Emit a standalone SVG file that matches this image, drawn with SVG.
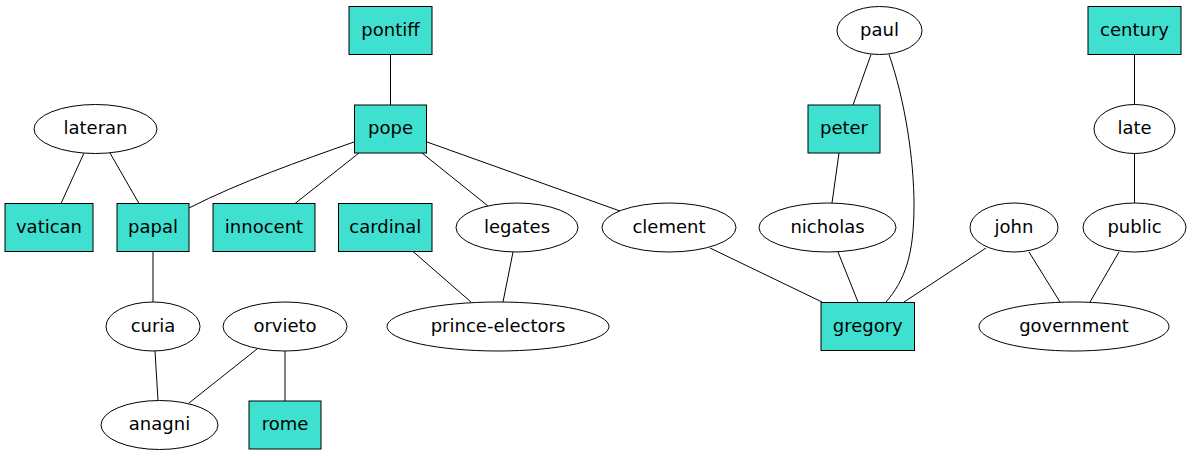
<svg xmlns="http://www.w3.org/2000/svg" width="1192" height="456" viewBox="0 0 1192 456">
<style>
.n rect{fill:#40e0d0;stroke:#000;stroke-width:1}
.n ellipse{fill:#fff;stroke:#000;stroke-width:1}
.n text{font-family:"DejaVu Sans",sans-serif;font-size:18px;text-anchor:middle;fill:#000}
#edges path{fill:none;stroke:#000;stroke-width:1}
</style>
<rect width="1192" height="456" fill="#fff"/>
<g id="edges">
<path d="M390.5,54.5 L390.5,105"/>
<path d="M84,153 L61,203.5"/>
<path d="M110,153 L139,203.5"/>
<path d="M354,142 C300,161 240,182 189,208"/>
<path d="M359,153 L295,203.5"/>
<path d="M422,153 L488,206"/>
<path d="M427,142 L620,211"/>
<path d="M153,251.5 L153,302"/>
<path d="M155,351 L158,400.5"/>
<path d="M257,349 L189,403"/>
<path d="M285,350 L285,401"/>
<path d="M413,251.5 L471,302"/>
<path d="M513,252 L503,302"/>
<path d="M710,248 L822,302"/>
<path d="M871,54.5 L853,105"/>
<path d="M889,54.5 C905,100 914,160 914,205 C914,255 905,280 886,302"/>
<path d="M839,153 L832,203"/>
<path d="M838,252 L858,302"/>
<path d="M986,248 L904,302"/>
<path d="M1029,252 L1060,302"/>
<path d="M1119,252 L1090,302"/>
<path d="M1134.5,54.5 L1134.5,104.5"/>
<path d="M1134.5,153.5 L1134.5,203"/>
</g>
<g id="pontiff" class="n"><rect x="349" y="6.5" width="83" height="48"/><text x="390.5" y="35.5">pontiff</text></g>
<g id="pope" class="n"><rect x="354.5" y="105" width="72" height="48"/><text x="390.5" y="134">pope</text></g>
<g id="lateran" class="n"><ellipse cx="95.5" cy="129" rx="61.5" ry="24.5"/><text x="95.5" y="134">lateran</text></g>
<g id="vatican" class="n"><rect x="5" y="203.5" width="88" height="48"/><text x="49" y="232.5">vatican</text></g>
<g id="papal" class="n"><rect x="117" y="203.5" width="72" height="48"/><text x="153" y="232.5">papal</text></g>
<g id="innocent" class="n"><rect x="213" y="203.5" width="102" height="48"/><text x="264" y="232.5">innocent</text></g>
<g id="cardinal" class="n"><rect x="338.5" y="203.5" width="93.5" height="48"/><text x="385.25" y="232.5">cardinal</text></g>
<g id="legates" class="n"><ellipse cx="517" cy="227.5" rx="61" ry="24.5"/><text x="517" y="232.5">legates</text></g>
<g id="clement" class="n"><ellipse cx="669" cy="227.5" rx="67" ry="24.5"/><text x="669" y="232.5">clement</text></g>
<g id="curia" class="n"><ellipse cx="153" cy="326.5" rx="47" ry="24.5"/><text x="153" y="331.5">curia</text></g>
<g id="orvieto" class="n"><ellipse cx="285" cy="326.5" rx="62" ry="24.5"/><text x="285" y="331.5">orvieto</text></g>
<g id="prince-electors" class="n"><ellipse cx="498" cy="326.5" rx="111" ry="24.5"/><text x="498" y="331.5">prince-electors</text></g>
<g id="anagni" class="n"><ellipse cx="159.5" cy="425" rx="58.5" ry="24.5"/><text x="159.5" y="430">anagni</text></g>
<g id="rome" class="n"><rect x="249" y="401" width="72" height="48"/><text x="285" y="430">rome</text></g>
<g id="paul" class="n"><ellipse cx="879.5" cy="30.5" rx="42.5" ry="24"/><text x="879.5" y="35.5">paul</text></g>
<g id="century" class="n"><rect x="1088" y="6.5" width="93" height="48"/><text x="1134.5" y="35.5">century</text></g>
<g id="peter" class="n"><rect x="808" y="105" width="72" height="48"/><text x="844" y="134">peter</text></g>
<g id="late" class="n"><ellipse cx="1134.5" cy="129" rx="40.5" ry="24.5"/><text x="1134.5" y="134">late</text></g>
<g id="nicholas" class="n"><ellipse cx="827.5" cy="227.5" rx="68.5" ry="24.5"/><text x="827.5" y="232.5">nicholas</text></g>
<g id="john" class="n"><ellipse cx="1014" cy="227.5" rx="44" ry="24.5"/><text x="1014" y="232.5">john</text></g>
<g id="public" class="n"><ellipse cx="1134.5" cy="227.5" rx="51.5" ry="24.5"/><text x="1134.5" y="232.5">public</text></g>
<g id="gregory" class="n"><rect x="821" y="302.5" width="93.5" height="48"/><text x="867.75" y="331.5">gregory</text></g>
<g id="government" class="n"><ellipse cx="1074" cy="326.5" rx="95" ry="24.5"/><text x="1074" y="331.5">government</text></g>
</svg>
